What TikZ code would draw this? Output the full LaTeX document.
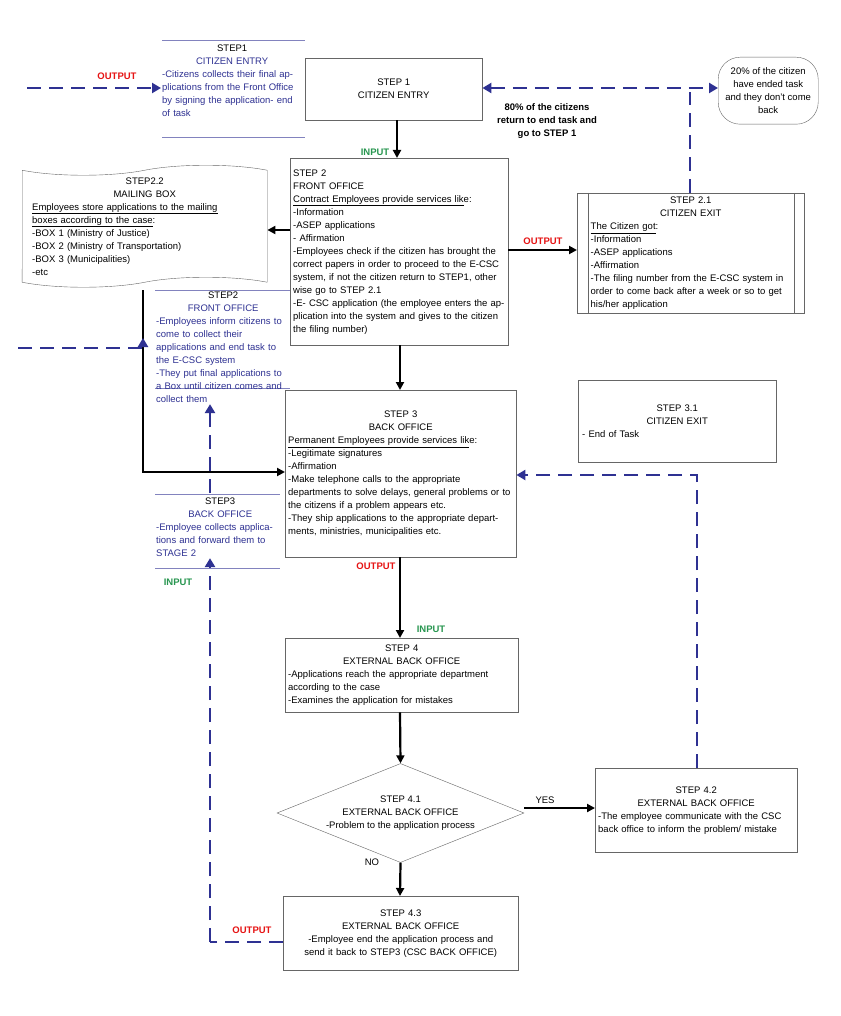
\documentclass[tikz,border=0pt]{standalone}
\usepackage{fontspec}
\setmainfont{Liberation Sans}
\usepackage{tikz}
\usetikzlibrary{shapes.geometric,shapes.symbols,arrows.meta}
\definecolor{dblue}{RGB}{46,49,146}
\definecolor{dred}{RGB}{230,20,20}
\definecolor{dgreen}{RGB}{40,150,80}
\tikzset{
  txt/.style={font=\fontsize{9.5}{13}\selectfont, inner sep=1pt},
  box/.style={txt, draw=black!60, fill=white, inner sep=2pt, anchor=north west},
  note/.style={txt, text=dblue, align=left, anchor=north west, text width=135pt},
  flow/.style={-{Triangle[length=8pt,width=8pt]}, line width=2.2pt},
  loop/.style={dblue, line width=2.6pt, dash pattern=on 14pt off 8pt},
  loopa/.style={loop, -{Triangle[length=9pt,width=10pt]}},
  outlbl/.style={txt, text=dred, font=\fontsize{9.5}{13}\selectfont\bfseries},
  inlbl/.style={txt, text=dgreen, font=\fontsize{9.5}{13}\selectfont\bfseries},
  rule/.style={dblue!60, line width=0.6pt},
}
\begin{document}
\begin{tikzpicture}[x=1pt, y=-1pt]
  \fill[white] (0,0) rectangle (840,1016);
  \useasboundingbox (0,0) rectangle (840,1016);

  % main boxes
  \node[box, minimum width=177pt, minimum height=62pt, align=center] (s1) at (305,58) {STEP 1\\CITIZEN ENTRY};
  \node[box, minimum width=218pt, minimum height=187pt, text width=212pt, align=left] (s2) at (290,158)
    {STEP 2\\FRONT OFFICE\\\underline{Contract Employees provide services lik}e:\\-Information\\-ASEP applications\\- Affirmation\\-Employees check if the citizen has brought the correct papers in order to proceed to the E-CSC system, if not the citizen return to STEP1, other wise go to STEP 2.1\\-E- CSC application (the employee enters the application into the system and gives to the citizen the filing number)};
  \node[box, minimum width=227pt, minimum height=120pt, text width=200pt, align=left] (s21) at (577,193)
    {\centering STEP 2.1\\CITIZEN EXIT\par\raggedright\underline{The Citizen got}:\\-Information\\-ASEP applications\\-Affirmation\\-The filing number from the E-CSC system in order to come back after a week or so to get his/her application};
  \draw[black!60, line width=0.6pt] ([xshift=11pt]s21.north west) -- ([xshift=11pt]s21.south west);
  \draw[black!60, line width=0.6pt] ([xshift=-10pt]s21.north east) -- ([xshift=-10pt]s21.south east);
  \node[txt, draw=black!60, fill=white, tape, tape bend height=10pt, minimum width=245pt, minimum height=122pt, text width=225pt, align=left, anchor=north west] (s22) at (22,170)
    {\centering STEP2.2\\MAILING BOX\par\raggedright\underline{Employees store applications to the mailing}\\\underline{boxes according to the case}:\\-BOX 1 (Ministry of Justice)\\-BOX 2 (Ministry of Transportation)\\-BOX 3 (Municipalities)\\-etc};
  \node[txt, draw=black!60, fill=white, rounded corners=22pt, minimum width=100pt, minimum height=67pt, align=center, anchor=north west] (pct) at (718,57)
    {20\% of the citizen\\have ended task\\and they don't come\\back};
  \node[box, minimum width=231pt, minimum height=167pt, text width=225pt, align=left] (s3) at (285,390)
    {\centering STEP 3\\BACK OFFICE\par\raggedright\underline{Permanent Employees provide services lik}e:\\-Legitimate signatures\\-Affirmation\\-Make telephone calls to the appropriate departments to solve delays, general problems or to the citizens if a problem appears etc.\\-They ship applications to the appropriate departments, ministries, municipalities etc.};
  \node[box, minimum width=198pt, minimum height=82pt, text width=190pt, align=left] (s31) at (578,380)
    {\centering STEP 3.1\\CITIZEN EXIT\par\raggedright- End of Task};
  \node[box, minimum width=233pt, minimum height=74pt, text width=227pt, align=left] (s4) at (285,638)
    {\centering STEP 4\\EXTERNAL BACK OFFICE\par\raggedright-Applications reach the appropriate department according to the case\\-Examines the application for mistakes};
  \node[txt, draw=black!60, fill=white, diamond, aspect=2.8, inner sep=0pt, minimum width=247pt, minimum height=99pt, align=center] (s41) at (400.5,813)
    {STEP 4.1\\EXTERNAL BACK OFFICE\\-Problem to the application process};
  \node[box, minimum width=202pt, minimum height=84pt, text width=196pt, align=left] (s42) at (595,768)
    {\centering STEP 4.2\\EXTERNAL BACK OFFICE\par\raggedright-The employee communicate with the CSC back office to inform the problem/ mistake\par\vspace{13pt}};
  \node[box, minimum width=235pt, minimum height=74pt, text width=229pt, align=center] (s43) at (283,896)
    {STEP 4.3\\EXTERNAL BACK OFFICE\\-Employee end the application process and send it back to STEP3 (CSC BACK OFFICE)\par\vspace{13pt}};

  % side notes
  \draw[rule] (162,40) -- (305,40) (162,137) -- (305,137);
  \node[note, text width=140pt] (n1) at (161,44)
    {\centering\textcolor{black}{STEP1}\\CITIZEN ENTRY\par\raggedright-Citizens collects their final applications from the Front Office by signing the application- end of task};
  \draw[rule] (155,290) -- (290,290) (155,388) -- (290,388);
  \node[note, text width=134pt] (n2) at (155,291)
    {\centering\textcolor{black}{STEP2}\\FRONT OFFICE\par\raggedright-Employees inform citizens to come to collect their applications and end task to the E-CSC system\\-They put final applications to a Box until citizen comes and collect them};
  \draw[rule] (155,494) -- (280,494) (155,568) -- (280,568);
  \node[note, text width=128pt] (n3) at (155,497)
    {\centering\textcolor{black}{STEP3}\\BACK OFFICE\par\raggedright-Employee collects applications and forward them to STAGE 2};
  \node[txt, font=\fontsize{9.5}{13}\selectfont\bfseries, align=center] (p80) at (547,121)
    {80\% of the citizens\\return to end task and\\go to STEP 1};

  % solid flow
  \draw[flow] (s1.south -| 397,0) -- (s2.north -| 397,0);
  \draw[flow] (s2.west |- 0,230) -- (s22.east |- 0,230);
  \draw[flow] (s2.east |- 0,250) -- (s21.west |- 0,250);
  \draw[flow] (s2.south -| 400,0) -- (s3.north -| 400,0);
  \coordinate (mbx) at (143,290);
  \draw[flow] (mbx) |- (s3.west |- 0,472);
  \draw[flow] (s3.south -| 400,0) -- (s4.north -| 400,0);
  \draw[flow] (s4.south -| 400,0) -- (s41.north);
  \draw[flow] (s41.east |- 0,808) -- (s42.west |- 0,808);
  \draw[flow] (s41.south) -- (s43.north -| 400,0);

  % dashed loops
  \coordinate (lin) at (27,88);
  \draw[loopa] (lin) -- (n1.west |- 0,88);
  \draw[loop, {Triangle[length=9pt,width=10pt]}-{Triangle[length=9pt,width=10pt]}] (s1.east |- 0,88) -- (pct.west |- 0,88);
  \draw[loop] (s21.north -| 690,0) -- (690,92);
  \coordinate (lout) at (18,348);
  \draw[loopa] (lout) -- (143,348) -- (143,338);
  \draw[loopa] (s42.north -| 697,0) |- (s3.east |- 0,475);
  \coordinate (lc) at (210,942);
  \draw[loop] (s43.west |- 0,942) -- (lc);
  \draw[loopa] (lc) -- (n3.south -| 210,0);
  \draw[loopa] (210,493) -- (n2.south -| 210,0);

  % labels
  \node[outlbl] (o1) at (117,76) {OUTPUT};
  \node[inlbl] (i1) at (375,152) {INPUT};
  \node[outlbl] (o2) at (543,241) {OUTPUT};
  \node[outlbl] (o3) at (376,566) {OUTPUT};
  \node[inlbl] (i2) at (431,629) {INPUT};
  \node[inlbl] (i3) at (178,582) {INPUT};
  \node[txt] (yes) at (545,800) {YES};
  \node[txt] (no) at (372,862) {NO};
  \node[outlbl] (o4) at (252,930) {OUTPUT};
\end{tikzpicture}
\end{document}
